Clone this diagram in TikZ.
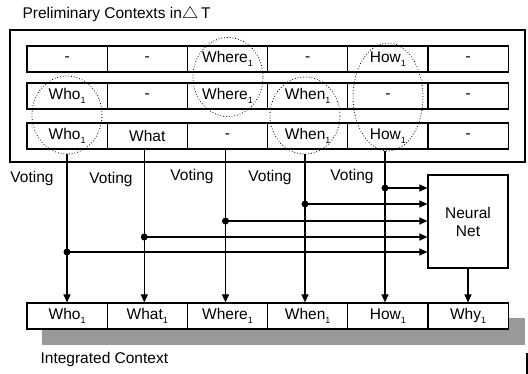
\documentclass[tikz,border=0pt]{standalone}
\usepackage{fontspec}
\setmainfont{Liberation Sans}
\usetikzlibrary{shapes.geometric,arrows.meta}
\newcommand{\ix}[1]{#1\raisebox{-4pt}{\fontsize{9}{9}\selectfont 1}}

\begin{document}
\begin{tikzpicture}[x=1pt, y=-1pt, line width=1.2pt,
  every node/.style={font=\fontsize{15.5}{18}\selectfont, inner sep=0pt},
  cell/.style={draw, fill=white, minimum width=80.2pt, minimum height=26pt},
  vote/.style={ellipse, draw, dotted, line width=0.8pt, minimum width=70pt},
  arr/.style={-{Triangle[length=8pt,width=7pt]}}]
  \useasboundingbox (0,0) rectangle (528,374);
  \node[anchor=west] (title) at (22,14) {Preliminary Contexts in\scalebox{1.3}[1.15]{$\bigtriangleup$}\,T};
  \draw (10,30) rectangle (525,162);
  % preliminary contexts, three rows
  \foreach \t [count=\i] in {-,-,\ix{Where},-,\ix{How},-}
    \node[cell] (a\i) at (-13.1+80.2*\i,59) {\t};
  \foreach \t [count=\i] in {\ix{Who},-,\ix{Where},\ix{When},-,-}
    \node[cell] (b\i) at (-13.1+80.2*\i,96) {\t};
  \foreach \t [count=\i] in {\ix{Who},What,-,\ix{When},\ix{How},-}
    \node[cell] (c\i) at (-13.1+80.2*\i,136) {\t};
  \node[vote, minimum height=78pt] (who) at (67,115) {};
  \node[vote, minimum height=79pt] (where) at (228,77) {};
  \node[vote, minimum height=77pt] (when) at (305,115.5) {};
  \node[vote, minimum height=108pt] (how) at (388,97) {};
  % integrated context
  \fill[black!40] (42,318) rectangle (525,345);
  \foreach \t [count=\i] in {\ix{Who},\ix{What},\ix{Where},\ix{When},\ix{How},\ix{Why}}
    \node[cell] (i\i) at (-13.1+80.2*\i,316) {\t};
  \node[anchor=west] (intlabel) at (40,359) {Integrated Context};
  \node[draw, minimum width=80pt, minimum height=93pt, align=center] (net) at (468,221.5) {Neural\\Net};
  \node (vote1) at (32,178) {Voting};
  \node (vote2) at (111,179) {Voting};
  \node (vote3) at (192,176) {Voting};
  \node (vote4) at (270,177) {Voting};
  \node (vote5) at (352,176) {Voting};
  \foreach \n/\dx/\y in {who/0/252, c2/-3/237, c3/-2/221, when/0/204, how/-3/188} {
    \coordinate (top\n) at ([xshift=\dx pt]\n.south);
    \draw[arr] (top\n) -- (top\n |- i1.north);
    \fill (top\n |- 0,\y) circle (3.5pt);
    \draw[arr] (top\n |- 0,\y) -- (net.west |- 0,\y);
  }
  \draw[arr] (net.south) -- (net.south |- i6.north);
  \draw[line width=1.5pt] (527,353) -- (527,374);
\end{tikzpicture}
\end{document}
